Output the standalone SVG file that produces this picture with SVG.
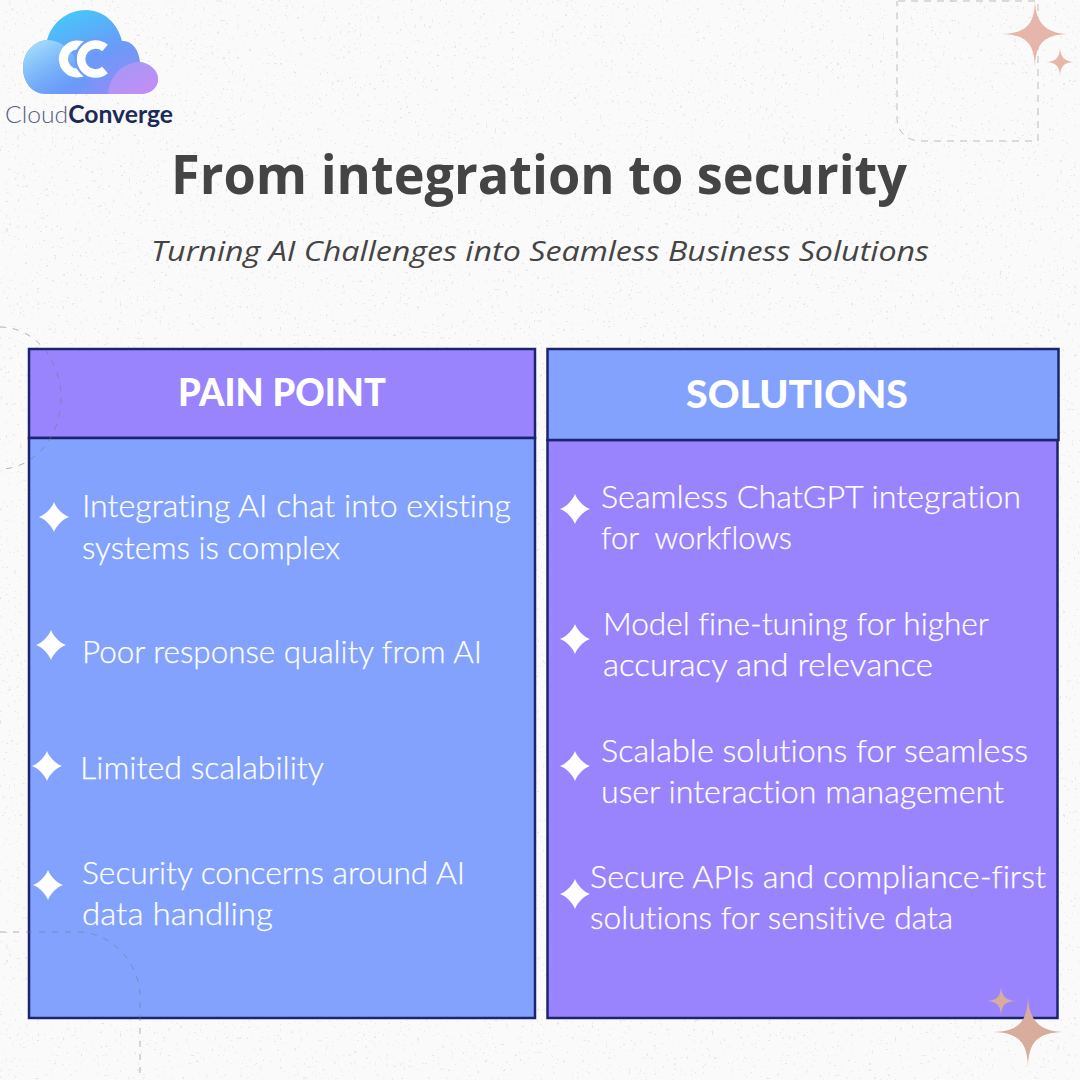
<svg xmlns="http://www.w3.org/2000/svg" width="1080" height="1080" viewBox="0 0 1080 1080">
<style>
text{font-variant-ligatures:none}
.b{font-family:"Lato","Noto Sans",sans-serif;font-weight:300;font-size:31px;fill:#fff;stroke:#fff;stroke-width:.25}
.h{font-family:"Lato","Noto Sans",sans-serif;font-weight:900;font-size:38px;fill:#fff;text-anchor:middle}
.box{stroke:#1c2470;stroke-width:2.500}
.dash{fill:none;stroke:#77777f;stroke-width:1;stroke-dasharray:6 7;opacity:.55}
.lite{fill:none;stroke:#bdbdbd;stroke-width:1;stroke-dasharray:7 6}
.spark{fill:#fff}
</style>
<defs>
<path id="f" d="M0-15C2-9 9-2 15 0C9 2 2 9 0 15C-2 9-9 2-15 0C-9-2-2-9 0-15Z"/>
<path id="g" d="M0-50C1-20 14-1 50 0C14 1 1 14 0 50C-1 14-14 1-50 0C-14-1-1-14 0-50Z"/>
<linearGradient id="cl" x1="0.15" y1="0" x2="0.85" y2="1"><stop offset="0" stop-color="#3fd0fb"/><stop offset=".55" stop-color="#6a9af8"/><stop offset="1" stop-color="#9a88f6"/></linearGradient>
<linearGradient id="cl2" x1="0" y1="0" x2="1" y2="1"><stop offset="0" stop-color="#b4e6fc"/><stop offset=".7" stop-color="#5f9df8" stop-opacity=".6"/><stop offset="1" stop-color="#5f9df8" stop-opacity="0"/></linearGradient>
<linearGradient id="cl3" x1="0" y1="0" x2="1" y2="1"><stop offset="0" stop-color="#a59cf6"/><stop offset="1" stop-color="#d08cf6"/></linearGradient>
<filter id="tex" x="0" y="0" width="100%" height="100%"><feTurbulence type="fractalNoise" baseFrequency=".35" numOctaves="3" seed="4"/><feColorMatrix values="0 0 0 0 .5 0 0 0 0 .5 0 0 0 0 .5 14 0 0 0 -9.800"/></filter>
</defs>
<rect width="1080" height="1080" fill="#fafafa"/>
<rect width="1080" height="1080" filter="url(#tex)" opacity=".3"/>
<g id="logo">
<path d="M47 94C30 94 23 80 23 68C23 52 34 41 47 40C52 22 68 10 86 10C104 10 118 24 122 41C132 40 139 50 140 62C150 63 158 71 158 79C158 88 150 94 140 94Z" fill="url(#cl)"/>
<path d="M47 94C30 94 23 80 23 68C23 52 34 41 47 40C62 40 74 52 80 66C86 80 98 90 112 94Z" fill="url(#cl2)"/>
<path d="M108 94C110 74 124 62 140 62C150 63 158 71 158 79C158 88 150 94 140 94Z" fill="url(#cl3)" opacity=".85"/>
<path d="M86 48A14 14 0 1 0 86 70" fill="none" stroke="#fff" stroke-width="9"/>
<path d="M105 48A14.500 14.500 0 1 0 105 70" fill="none" stroke="#6f9cf8" stroke-width="13"/>
<path d="M105 48A14.500 14.500 0 1 0 105 70" fill="none" stroke="#fff" stroke-width="8.500"/>
<text x="5" y="123" font-family="Lato,'Noto Sans',sans-serif" font-size="24" textLength="168" lengthAdjust="spacingAndGlyphs"><tspan fill="#55607f" font-weight="300">Cloud</tspan><tspan fill="#1c2a58" font-weight="700">Converge</tspan></text>
</g>
<g id="title">
<text x="539" y="194" text-anchor="middle" font-family="'Open Sans',sans-serif" font-weight="700" font-size="54" fill="#444444" textLength="736" lengthAdjust="spacingAndGlyphs">From integration to security</text>
<text x="540" y="261" text-anchor="middle" font-family="'Open Sans',sans-serif" font-style="italic" font-size="28" fill="#444444" textLength="778" lengthAdjust="spacingAndGlyphs">Turning AI Challenges into Seamless Business Solutions</text>
</g>
<g id="top-right-decoration">
<path class="lite" d="M898 1H1038V141H918Q899 138 897 120V1"/>
<use href="#g" transform="translate(1035 34) scale(.66)" fill="#e6b6ab"/>
<use href="#g" transform="translate(1060 62) scale(.29)" fill="#e6b6ab"/>
</g>
<g id="left-panel">
<rect class="box" x="29" y="349" width="506" height="89" fill="#9a84fd"/>
<rect class="box" x="29" y="438" width="506" height="580" fill="#83a2fd"/>
<text class="h" x="282" y="406" textLength="208" lengthAdjust="spacingAndGlyphs">PAIN POINT</text>
<use class="spark" href="#f" x="54" y="517"/>
<text class="b" x="82" y="517" textLength="429" lengthAdjust="spacingAndGlyphs">Integrating AI chat into existing</text>
<text class="b" x="82" y="559" textLength="258" lengthAdjust="spacingAndGlyphs">systems is complex</text>
<use class="spark" href="#f" x="51" y="645"/>
<text class="b" x="82" y="663" textLength="400" lengthAdjust="spacingAndGlyphs">Poor response quality from AI</text>
<use class="spark" href="#f" x="47" y="766"/>
<text class="b" x="80" y="779" textLength="244" lengthAdjust="spacingAndGlyphs">Limited scalability</text>
<use class="spark" href="#f" x="48" y="885"/>
<text class="b" x="82" y="884" textLength="383" lengthAdjust="spacingAndGlyphs">Security concerns around AI</text>
<text class="b" x="82" y="925" textLength="191" lengthAdjust="spacingAndGlyphs">data handling</text>
</g>
<g id="right-panel">
<rect class="box" x="547.500" y="440" width="510" height="578" fill="#9a84fd"/>
<rect class="box" x="547.500" y="349" width="511" height="91" fill="#83a2fd"/>
<text class="h" x="797" y="408" textLength="222" lengthAdjust="spacingAndGlyphs">SOLUTIONS</text>
<use class="spark" href="#f" x="575" y="509"/>
<text class="b" x="601" y="508" textLength="420" lengthAdjust="spacingAndGlyphs">Seamless ChatGPT integration</text>
<text class="b" x="601" y="549" textLength="191" lengthAdjust="spacingAndGlyphs" xml:space="preserve">for  workflows</text>
<use class="spark" href="#f" x="575" y="639"/>
<text class="b" x="603" y="635" textLength="386" lengthAdjust="spacingAndGlyphs">Model fine-tuning for higher</text>
<text class="b" x="603" y="676" textLength="330" lengthAdjust="spacingAndGlyphs">accuracy and relevance</text>
<use class="spark" href="#f" x="575" y="766"/>
<text class="b" x="601" y="762" textLength="427" lengthAdjust="spacingAndGlyphs">Scalable solutions for seamless</text>
<text class="b" x="601" y="803" textLength="403" lengthAdjust="spacingAndGlyphs">user interaction management</text>
<use class="spark" href="#f" x="575" y="894"/>
<text class="b" x="590" y="888" textLength="456" lengthAdjust="spacingAndGlyphs">Secure APIs and compliance-first</text>
<text class="b" x="590" y="929" textLength="363" lengthAdjust="spacingAndGlyphs">solutions for sensitive data</text>
</g>
<g id="overlay-decoration">
<path class="dash" d="M0 327A61 71 0 0 1 0 469"/>
<path class="dash" d="M0 932H80C115 934 139 965 140 995V1080"/>
<use href="#g" transform="translate(1001 1001) scale(.3)" fill="#d8ad9d"/>
<use href="#g" transform="translate(1028 1032) scale(.7)" fill="#d8ad9d"/>
</g>
</svg>
